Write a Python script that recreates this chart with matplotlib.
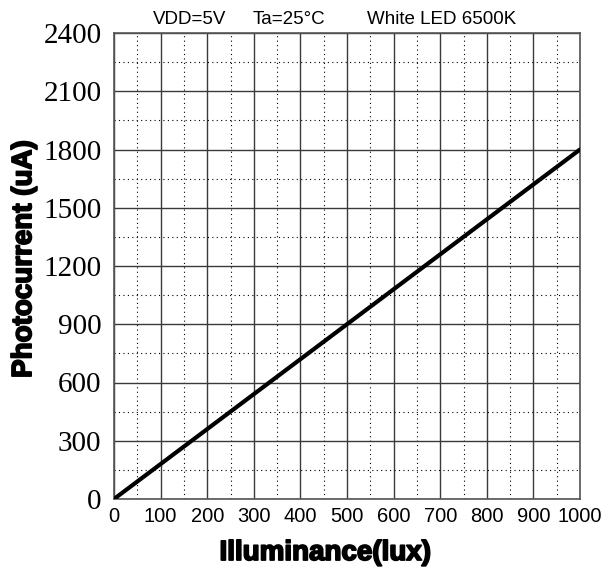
import matplotlib
matplotlib.use("Agg")
import matplotlib.pyplot as plt
import matplotlib.patheffects as pe
from matplotlib.ticker import MultipleLocator

illuminance = [0, 100, 200, 300, 400, 500, 600, 700, 800, 900, 1000]
photocurrent = [0, 180, 360, 540, 720, 900, 1080, 1260, 1440, 1620, 1800]
x_ticks = [0, 100, 200, 300, 400, 500, 600, 700, 800, 900, 1000]
y_ticks = [0, 300, 600, 900, 1200, 1500, 1800, 2100, 2400]

W, H = 610, 570
fig = plt.figure(figsize=(6.1, 5.7), dpi=100)
ax = fig.add_axes([114 / W, 1 - 499 / H, (580 - 114) / W, (499 - 33) / H])

ax.set_xlim(0, 1000)
ax.set_ylim(0, 2400)
ax.set_xticks(x_ticks)
ax.set_yticks(y_ticks)
ax.xaxis.set_minor_locator(MultipleLocator(50))
ax.yaxis.set_minor_locator(MultipleLocator(150))

ax.grid(which="major", color="#3a3a3a", linewidth=1.0)
ax.grid(which="minor", color="black", linewidth=0.8, linestyle=(0, (1, 3)))
ax.set_axisbelow(True)
for s in ax.spines.values():
    s.set_color("#555555")
    s.set_linewidth(1.2)

ax.tick_params(which="both", length=0)
ax.tick_params(axis="y", pad=9)
ax.tick_params(axis="x", pad=6)
for lab in ax.get_yticklabels():
    lab.set_fontfamily("Liberation Serif")
    lab.set_fontsize(21)
for lab in ax.get_xticklabels():
    lab.set_fontfamily("Liberation Sans")
    lab.set_fontsize(14.5)

ax.plot(illuminance, photocurrent, color="black", linewidth=3.0, solid_capstyle="round", zorder=3)

heavy = dict(family=["Liberation Sans", "DejaVu Sans"], fontweight="bold",
             path_effects=[pe.withStroke(linewidth=1.3, foreground="black")])
ax.set_xlabel("Illuminance(lux)", fontsize=20, **heavy)
ax.set_ylabel("Photocurrent (uA)", fontsize=20, **heavy)
ax.xaxis.set_label_coords(0.453, -0.088)
ax.yaxis.set_label_coords(-0.165, 0.515)

tfont = dict(family="Liberation Sans", fontsize=13.5, va="baseline", ha="left")
fig.text(153 / W, 1 - 24 / H, "VDD=5V", **tfont)
fig.text(253 / W, 1 - 24 / H, "Ta=25°C", **tfont)
fig.text(367 / W, 1 - 24 / H, "White LED 6500K", **tfont)

fig.savefig("out.png", dpi=100)
